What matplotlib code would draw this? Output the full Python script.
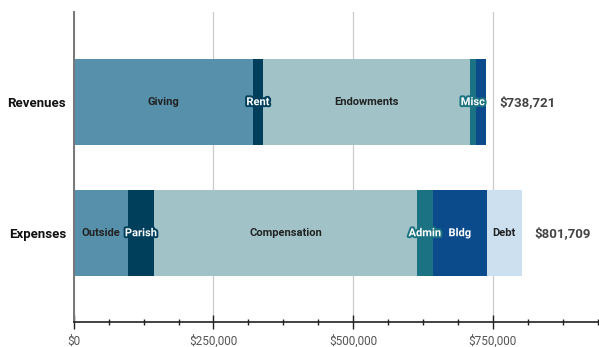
import matplotlib
matplotlib.use("Agg")
import matplotlib.pyplot as plt
import matplotlib.patheffects as pe
from matplotlib.ticker import MultipleLocator, FuncFormatter
import numpy as np

plt.rcParams['font.family'] = ['Roboto', 'DejaVu Sans']

categories = ["Revenues", "Expenses"]

revenue_names = ["Giving", "Rent", "Endowments", "Misc", ""]
revenue_values = [320700, 17900, 370400, 10700, 19021]

expense_names = ["Outside", "Parish", "Compensation", "Admin", "Bldg", "Debt"]
expense_values = [96500, 47600, 469500, 29700, 95600, 62809]

totals = [738721, 801709]
tick_values = [0, 250000, 500000, 750000]

palette = ["#5790ab", "#003f5c", "#a1c3c8", "#1b7282", "#0b4b8b", "#cde0ef"]
dark_seg = [False, True, False, True, True, False]

fig = plt.figure(figsize=(5.99, 3.47), dpi=100)
ax = fig.add_axes([73.8 / 599, 1 - 322.3 / 347, (597.5 - 73.8) / 599, (322.3 - 12.3) / 347])

bar_h = 0.654
for yi, (names, vals) in enumerate([(revenue_names, revenue_values), (expense_names, expense_values)]):
    left = 0
    for i, (n, v) in enumerate(zip(names, vals)):
        ax.barh(yi, v, left=left, height=bar_h, color=palette[i], linewidth=0, zorder=2)
        if n:
            cx = left + v / 2
            if dark_seg[i]:
                ax.text(cx, yi, n, ha="center", va="center", fontsize=8, fontweight="bold",
                        color="white", zorder=4,
                        path_effects=[pe.withStroke(linewidth=2.8, foreground=palette[i])])
            else:
                ax.text(cx, yi, n, ha="center", va="center", fontsize=8, fontweight="bold",
                        color="#222222", zorder=4)
        left += v
    ax.text(left + 23000, yi, "${:,.0f}".format(totals[yi]), ha="left", va="center",
            fontsize=9.5, fontweight="bold", color="#444444", zorder=4)

ax.set_xlim(0, 937500)
ax.set_ylim(1.68, -0.686)
ax.set_yticks(range(len(categories)))
ax.set_yticklabels(categories, fontsize=9.5, fontweight="bold", color="#111111")
ax.tick_params(axis="y", length=0, pad=5.5)

ax.set_xticks(tick_values)
ax.xaxis.set_minor_locator(MultipleLocator(62500))
ax.xaxis.set_major_formatter(FuncFormatter(lambda v, p: "${:,.0f}".format(v)))
ax.tick_params(axis="x", which="major", direction="inout", length=9.5, width=1, color="#222222",
               labelsize=8.5, labelcolor="#555555", pad=4)
ax.tick_params(axis="x", which="minor", direction="inout", length=4.5, width=1, color="#222222")

ax.grid(axis="x", which="major", color="#cccccc", linewidth=0.9, zorder=0)
ax.set_axisbelow(True)
for s in ["top", "right"]:
    ax.spines[s].set_visible(False)
ax.spines["left"].set_color("#777777")
ax.spines["left"].set_linewidth(1.4)
ax.spines["bottom"].set_color("#222222")
ax.spines["bottom"].set_linewidth(1.2)

fig.savefig("out.png", dpi=100)
